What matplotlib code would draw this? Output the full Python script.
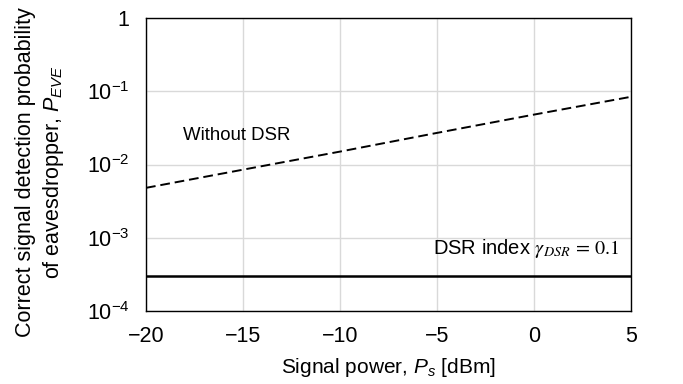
import matplotlib
matplotlib.use("Agg")
import matplotlib.pyplot as plt
import numpy as np
from matplotlib.ticker import FixedLocator, FixedFormatter, NullLocator

plt.rcParams['font.family'] = ['Liberation Sans', 'DejaVu Sans']
plt.rcParams['mathtext.fontset'] = 'custom'
plt.rcParams['mathtext.rm'] = 'Liberation Sans'
plt.rcParams['mathtext.it'] = 'Liberation Sans:italic'
plt.rcParams['mathtext.bf'] = 'Liberation Sans:bold'

# Data
ps_dbm = [-20, -15, -10, -5, 0, 5]
p_without_dsr = [4.8e-3, 8.5e-3, 1.5e-2, 2.7e-2, 4.8e-2, 8.4e-2]
p_with_dsr = [3.0e-4, 3.0e-4, 3.0e-4, 3.0e-4, 3.0e-4, 3.0e-4]
xticks = [-20, -15, -10, -5, 0, 5]
yticks = [1e-4, 1e-3, 1e-2, 1e-1, 1]
ytick_labels = [r'$\mathregular{10^{-4}}$', r'$\mathregular{10^{-3}}$',
                r'$\mathregular{10^{-2}}$', r'$\mathregular{10^{-1}}$', '1']

fig = plt.figure(figsize=(6.83, 3.84), dpi=100)
W, H = 683, 384
ax = fig.add_axes([146 / W, 1 - 311 / H, (631 - 146) / W, (311 - 18) / H])

ax.plot(ps_dbm, p_without_dsr, color='black', linestyle=(0, (5, 2.5)), linewidth=1.4)
ax.plot(ps_dbm, p_with_dsr, color='black', linestyle='-', linewidth=1.8)

ax.set_yscale('log')
ax.set_xlim(-20, 5)
ax.set_ylim(1e-4, 1)
ax.xaxis.set_major_locator(FixedLocator(xticks))
ax.yaxis.set_major_locator(FixedLocator(yticks))
ax.yaxis.set_major_formatter(FixedFormatter(ytick_labels))
ax.yaxis.set_minor_locator(NullLocator())
ax.grid(True, color='#d9d9d9', linewidth=1.0)
ax.set_axisbelow(True)
ax.tick_params(axis='y', which='both', length=0, labelsize=15.5, pad=12)
ax.tick_params(axis='x', which='both', length=0, labelsize=15.5, pad=11)
for s in ax.spines.values():
    s.set_linewidth(1.0)
    s.set_color('black')

ax.text(-18.1, 2.5e-2, 'Without DSR', fontsize=13.4, va='center', ha='left')
ax.text(-5.2, 7.2e-4, r'DSR index $\gamma_{DSR}\,=\,0.1$', fontsize=14.5,
        va='center', ha='left', math_fontfamily='stix')

ax.set_xlabel(r'Signal power, $P_s$ [dBm]', fontsize=15, labelpad=6)
fig.text(26 / W, 1 - 172 / H, 'Correct signal detection probability',
         rotation=90, fontsize=15.5, va='center', ha='center')
fig.text(54 / W, 1 - 172 / H, r'of eavesdropper, $P_{EVE}$',
         rotation=90, fontsize=15.5, va='center', ha='center')

fig.savefig('out.png', dpi=100)
